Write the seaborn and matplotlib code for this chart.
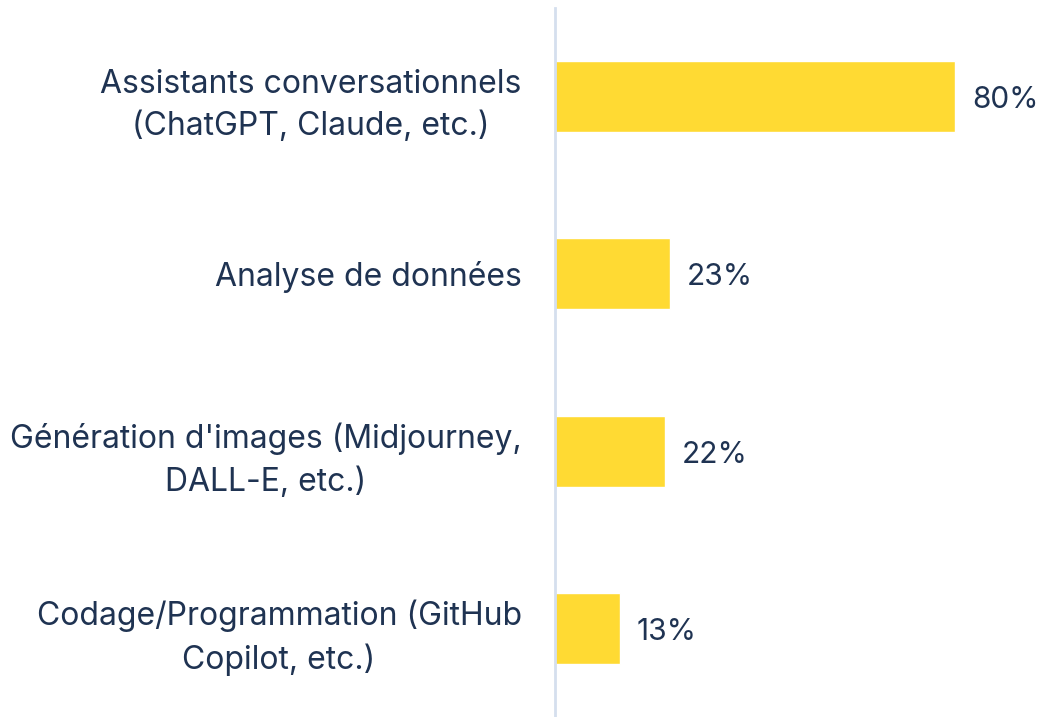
import seaborn as sns
import matplotlib.pyplot as plt
import pandas as pd

categories = [
    "Assistants conversationnels\n(ChatGPT, Claude, etc.)",
    "Analyse de données",
    "Génération d'images (Midjourney,\nDALL-E, etc.)",
    "Codage/Programmation (GitHub\nCopilot, etc.)",
]
values = [80, 23, 22, 13]

df = pd.DataFrame({"cat": categories, "val": values})

sns.set_style("white")
plt.rcParams["font.family"] = ["Inter", "DejaVu Sans"]
text_color = "#1F3352"

fig = plt.figure(figsize=(10.43, 7.17), dpi=100)
ax = fig.add_axes([555 / 1043, 0, 1 - 555 / 1043, 1 - 8 / 717])
sns.barplot(data=df, x="val", y="cat", color="#FFDA33", saturation=1,
            width=0.4, ax=ax)

ax.set_xlim(0, 97.6)
ax.set_ylim(3.5, -0.5)
ax.set_xlabel("")
ax.set_ylabel("")
ax.set_xticks([])
for s in ["top", "right", "bottom"]:
    ax.spines[s].set_visible(False)
ax.spines["left"].set_color("#D5DFEE")
ax.spines["left"].set_linewidth(2)
ax.tick_params(axis="y", length=0, pad=24, labelsize=23, labelcolor=text_color)
for lbl in ax.get_yticklabels():
    lbl.set_multialignment("center")
    lbl.set_linespacing(1.45)

for i, v in enumerate(values):
    ax.text(v + 3.4, i + 0.02, f"{v}%", va="center", ha="left", fontsize=21.5,
            color=text_color)

fig.savefig("out.png", dpi=100)
